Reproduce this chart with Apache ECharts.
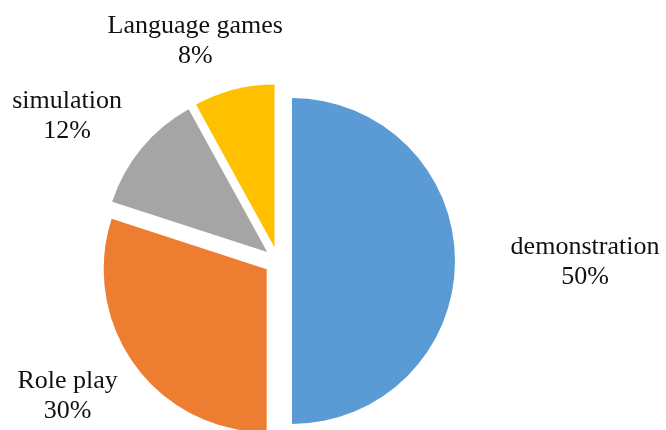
<!DOCTYPE html>
<html>
<head>
<meta charset="utf-8">
<script src="https://cdn.jsdelivr.net/npm/echarts@6/dist/echarts.min.js"></script>
<style>html,body{margin:0;padding:0;background:#fff;}#c{width:666px;height:430px;}</style>
</head>
<body>
<div id="c"></div>
<script>
const categories = ['demonstration', 'Role play', 'simulation', 'Language games'];
const values = [50, 30, 12, 8];
const colors = ['#5B9BD5', '#ED7D31', '#A5A5A5', '#FFC000'];
// label shifts from default outside position (px)
const labelShift = [[80, 1], [-20, 22], [-28, -22], [0, -34]];

const chart = echarts.init(document.getElementById('c'), null, {renderer: 'canvas'});
chart.setOption({
  animation: false,
  backgroundColor: '#fff',
  series: [{
    type: 'pie',
    center: [278, 261],
    radius: 163,
    startAngle: 90,
    clockwise: true,
    selectedMode: 'multiple',
    selectedOffset: 14,
    avoidLabelOverlap: false,
    emphasis: {disabled: true},
    label: {
      show: true,
      position: 'outside',
      formatter: p => p.name + '\n' + Math.round(p.percent) + '%',
      fontFamily: 'Liberation Serif',
      fontSize: 26,
      lineHeight: 30,
      color: '#111',
      align: 'center'
    },
    labelLine: {show: false},
    labelLayout: function (params) {
      const s = labelShift[params.dataIndex];
      return {dx: s[0], dy: s[1], align: 'center', verticalAlign: 'middle'};
    },
    data: categories.map((n, i) => ({
      name: n,
      value: values[i],
      selected: true,
      itemStyle: {color: colors[i]}
    }))
  }]
});
</script>
</body>
</html>
